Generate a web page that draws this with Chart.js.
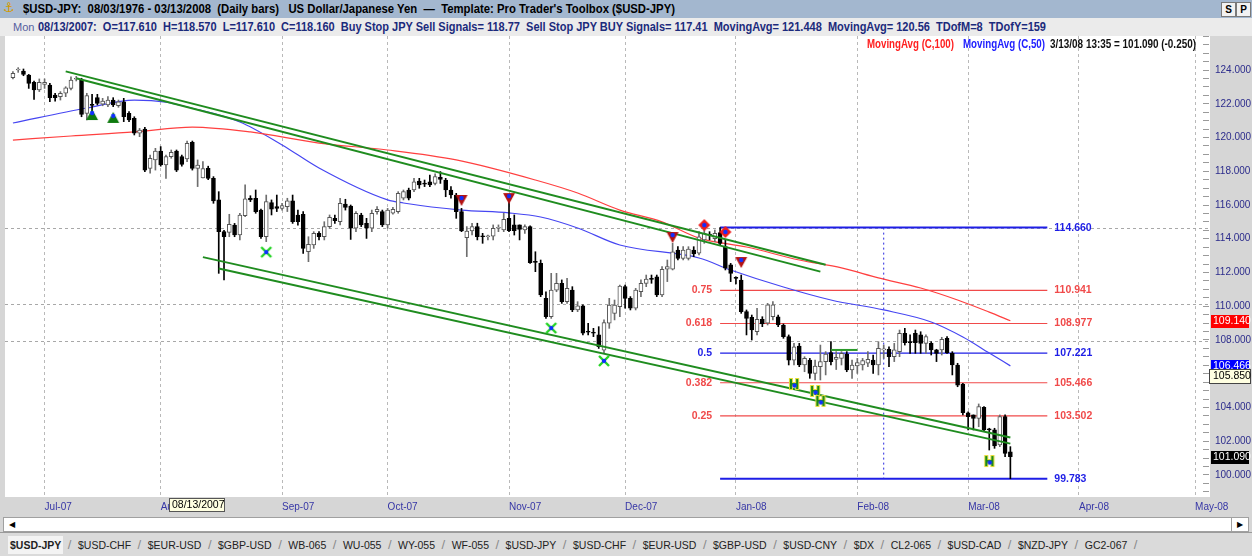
<!DOCTYPE html>
<html>
<head>
<meta charset="utf-8">
<title>$USD-JPY Daily bars</title>
<script src="https://cdn.jsdelivr.net/npm/chart.js@4.4.1/dist/chart.umd.min.js"></script>
<style>
  html, body { margin: 0; padding: 0; }
  body { width: 1252px; height: 556px; position: relative; overflow: hidden; background: #d6d6d6; font-family: "Liberation Sans", Arial, sans-serif; }
  .fit { position: absolute; display: inline-block; white-space: pre; transform-origin: 0 50%; }
  #bar1 { position: absolute; left: 0; top: 0; width: 1252px; height: 18px; background: #a3b7cf; }
  #icon { position: absolute; left: 3px; top: 0; font: 13px "DejaVu Sans"; color: #d49a00; }
  .btn { position: absolute; top: 2px; width: 13px; height: 13px; background: #f2f2f2; border: 1px solid #7a7a7a; font: bold 10px "Liberation Sans"; text-align: center; line-height: 13px; }
  #bar2 { position: absolute; left: 0; top: 18px; width: 1252px; height: 18px; background: #ebebeb; }
  #chart { position: absolute; left: 0; top: 36px; }
  #scroll { position: absolute; left: 3px; top: 517px; width: 1244px; height: 13px; background: #fff; border: 1px solid #a0a0a0; }
  #scroll .arr { position: absolute; top: 0; width: 16px; height: 13px; font: 8px "DejaVu Sans"; line-height: 13px; text-align: center; color: #000; }
  #tabs { position: absolute; left: 0; top: 532px; width: 1252px; height: 24px; border-top: 1px solid #9a9a9a; background: #dadada; display: flex; align-items: center; padding-left: 8px; box-sizing: border-box; font-size: 10.5px; color: #222; }
  #tabs .tab { padding: 0 2px; }
  #tabs .on { font-weight: bold; background: #f3f3f3; padding: 3px 2px; }
  #tabs .sep { color: #8a8a8a; padding: 0 4.5px; font-size: 13px; }
</style>
</head>
<body>
<div id="bar1">
  <span id="icon">⚓</span>
  <span class="fit" id="title1" style="left:23px;top:2px;font-weight:bold;font-size:12px;color:#000;">$USD-JPY:  08/03/1976 - 03/13/2008  (Daily bars)   US Dollar/Japanese Yen  —  Template: Pro Trader's Toolbox ($USD-JPY)</span>
  <span class="btn" style="left:1221px;">S</span>
  <span class="btn" style="left:1236px;">P</span>
</div>
<div id="bar2">
  <span class="fit" style="left:13px;top:3px;font-size:11px;color:#5560a0;">Mon</span>
  <span class="fit" id="title2" style="left:38px;top:2px;font-weight:bold;font-size:12px;color:#1b2a7c;">08/13/2007:  O=117.610  H=118.570  L=117.610  C=118.160  Buy Stop JPY Sell Signals= 118.77  Sell Stop JPY BUY Signals= 117.41  MovingAvg= 121.448  MovingAvg= 120.56  TDofM=8  TDofY=159</span>
</div>
<canvas id="chart" width="1252" height="481"></canvas>
<span class="fit" id="leg1" style="left:867px;top:37px;font-weight:bold;font-size:12px;color:#ff2020;z-index:3;">MovingAvg (C,100)</span>
<span class="fit" id="leg2" style="left:963px;top:37px;font-weight:bold;font-size:12px;color:#2020ff;z-index:3;">MovingAvg (C,50)</span>
<span class="fit" id="leg3" style="left:1050px;top:37px;font-weight:bold;font-size:12px;color:#111;z-index:3;">3/13/08 13:35 = 101.090 (-0.250)</span>
<div id="scroll"><span class="arr" style="left:0;">◀</span><span class="arr" style="right:0;border-left:1px solid #a0a0a0;">▶</span></div>
<div id="tabs"></div>
<script>
// trading days on the category axis
const firstDate = '06/21/2007';
const lastDate = '05/02/2008';
const firstBar = '06/22/2007';

// candles, one per weekday from firstBar to 03/13/2008
const opens = [
  123.55,124.00,123.94,123.70,123.27,122.82,123.15,123.11,122.52,122.42,122.62,122.91,123.45,123.41,121.43,121.95,122.36,121.97,121.93,122.22,
  121.89,122.12,121.43,121.14,120.25,120.50,118.17,118.67,119.20,118.37,118.87,119.20,118.87,118.73,119.71,118.17,117.61,118.17,117.58,116.30,
  114.42,114.38,114.81,114.22,115.37,116.40,116.40,115.70,114.12,116.14,115.90,115.80,115.90,116.24,115.41,115.45,113.23,113.63,114.32,114.12,
  114.72,115.21,115.01,116.06,115.94,114.62,115.41,114.92,114.62,115.61,115.61,114.82,115.51,115.61,116.40,116.89,116.89,117.42,117.28,117.38,
  117.28,117.64,117.48,116.89,116.59,115.61,114.06,114.46,114.72,114.16,114.12,114.16,114.62,114.52,115.21,114.82,114.82,114.52,114.72,112.66,
  112.54,110.47,109.38,110.96,111.36,110.27,110.96,109.78,110.02,108.50,108.44,108.30,107.40,108.99,109.58,109.98,111.16,110.47,109.88,110.86,
  111.36,111.61,111.75,110.67,112.19,112.19,113.33,112.84,112.84,113.33,113.14,113.93,114.24,114.00,114.36,113.53,112.45,111.67,111.55,109.68,
  109.34,108.50,109.23,108.99,109.38,109.38,108.89,108.20,106.81,107.64,106.52,106.81,106.02,106.42,106.72,107.25,106.85,106.91,107.17,106.22,
  106.46,106.52,106.62,106.81,106.52,107.41,107.45,107.01,107.31,108.40,107.86,108.40,108.30,107.80,107.80,107.41,107.41,108.10,107.21,106.52,
  105.39,103.69,103.56,103.36,104.01,102.71,102.67,101.78,103.46,101.38
];
const highs = [
  123.90,124.14,124.06,123.74,123.35,123.47,123.47,123.21,122.62,122.72,123.01,123.60,123.62,123.51,122.62,122.56,122.56,122.32,122.42,122.36,
  122.22,122.32,121.53,121.23,120.54,120.60,118.96,119.36,119.46,118.96,119.26,119.26,118.96,119.79,119.79,118.67,118.57,118.30,117.68,116.79,
  114.50,115.45,114.91,115.51,117.19,116.55,116.89,115.76,116.59,116.30,116.59,116.10,116.40,116.59,115.70,115.61,114.12,114.42,114.42,115.01,
  115.41,115.41,116.40,116.34,116.00,115.61,115.51,115.21,115.70,115.90,115.70,115.80,115.86,116.79,116.89,117.00,117.58,117.58,117.48,117.78,
  117.84,117.98,117.58,117.09,116.69,115.80,114.72,114.92,114.92,114.32,114.22,114.82,114.82,115.51,116.49,115.41,114.82,114.82,114.76,113.23,
  112.74,110.86,111.95,111.95,111.56,111.66,111.16,110.27,110.08,108.99,108.69,108.79,109.19,110.47,110.37,111.26,111.26,110.57,111.06,111.56,
  111.85,111.85,111.85,112.35,112.74,113.73,113.53,113.53,113.53,113.53,114.42,114.72,114.42,114.52,114.66,113.93,112.54,111.75,111.85,109.78,
  109.48,109.88,109.38,110.17,110.27,109.48,108.95,108.30,107.80,107.80,107.01,106.91,106.81,107.70,107.31,107.90,107.31,107.31,107.31,106.81,
  106.91,106.91,107.31,107.11,107.90,107.70,107.60,107.80,108.59,108.69,108.30,108.59,108.49,108.30,107.90,107.45,108.16,108.20,107.31,106.62,
  105.43,103.75,103.56,104.21,104.05,102.77,102.77,103.56,103.56,101.68
];
const lows = [
  123.47,123.86,123.66,122.91,122.26,122.72,122.91,122.12,122.16,122.22,122.42,122.82,123.35,121.23,121.04,121.43,121.93,121.88,121.83,121.83,
  121.79,120.94,120.94,120.15,120.05,117.98,117.88,118.07,118.30,117.58,118.77,117.98,118.30,118.57,118.07,117.09,117.61,117.50,116.10,111.95,
  111.56,114.12,114.12,113.93,115.31,116.20,115.51,114.02,113.83,115.41,115.61,115.70,115.61,114.91,114.81,113.13,112.64,113.43,113.93,113.93,
  114.62,114.91,114.82,115.70,113.96,114.42,114.72,114.02,114.42,115.45,114.72,114.62,115.45,115.51,116.30,116.30,116.79,116.99,117.09,117.09,
  117.19,117.28,116.49,116.40,115.21,114.42,112.94,114.22,113.93,113.73,113.93,113.93,114.42,114.42,114.42,114.22,113.93,114.32,112.54,112.05,
  110.57,109.28,109.28,110.86,110.17,110.17,109.68,109.68,108.30,108.30,108.20,107.50,107.21,108.69,109.19,109.38,109.88,109.78,109.78,110.57,
  111.16,111.36,110.57,110.57,111.46,112.15,112.74,112.74,112.74,112.94,113.04,113.73,113.93,113.83,113.63,112.15,111.46,111.32,109.58,108.30,
  108.00,108.30,108.79,108.89,109.19,108.79,108.10,106.52,106.52,106.42,106.12,105.73,105.63,105.63,105.93,106.52,106.25,106.52,106.12,105.73,
  106.02,106.22,106.42,106.02,105.93,106.91,106.42,106.72,107.01,107.70,107.21,107.21,107.21,107.21,107.11,106.72,107.11,107.21,105.93,105.23,
  103.56,102.67,102.67,102.86,102.57,101.48,101.58,101.68,101.09,99.78
];
const closes = [
  123.80,124.02,123.74,123.21,122.82,123.27,123.27,122.36,122.36,122.62,122.95,123.41,123.49,121.37,122.48,121.90,122.02,122.16,122.22,121.93,
  122.12,121.23,121.04,120.25,120.44,118.07,118.77,119.20,118.37,118.87,119.12,118.07,118.41,119.65,118.17,118.37,118.16,117.58,116.24,114.42,
  114.12,114.85,114.22,115.41,116.36,116.30,115.61,114.12,116.20,115.76,115.80,115.96,116.24,115.01,115.01,113.43,113.67,114.32,114.12,114.72,
  115.27,115.07,116.10,115.86,114.62,115.51,114.82,114.62,115.51,115.75,114.82,115.70,115.74,116.69,116.79,116.40,117.38,117.19,117.24,117.19,
  117.68,117.52,116.89,116.59,115.61,114.46,114.46,114.72,114.12,114.12,114.14,114.62,114.66,115.15,114.48,114.48,114.56,114.72,112.58,112.60,
  110.67,109.38,110.96,111.36,110.27,111.06,109.78,110.02,108.40,108.46,108.40,107.60,109.03,110.07,110.07,111.20,110.47,109.88,110.96,111.36,
  111.61,111.59,110.67,112.19,112.35,113.23,112.84,113.33,113.39,113.10,114.12,114.32,114.22,114.32,113.73,112.25,111.95,111.65,109.68,109.28,
  108.59,109.23,108.95,110.08,110.08,108.89,108.20,106.81,107.60,106.52,106.91,106.02,106.46,106.72,107.17,106.72,106.97,107.21,106.22,106.52,
  106.66,106.78,106.85,106.52,107.50,107.45,107.01,107.41,108.40,107.84,107.84,107.84,107.80,108.20,107.41,107.21,108.04,107.25,106.52,105.33,
  103.69,103.46,103.36,104.05,102.67,102.67,101.72,103.46,101.28,101.09
];

// moving averages
const ma100Dates = ['06/22/2007','07/09/2007','07/25/2007','08/09/2007','08/24/2007','09/12/2007','10/01/2007','10/18/2007','11/08/2007','11/20/2007','11/30/2007','12/12/2007','12/21/2007','01/03/2008','01/17/2008','01/29/2008','02/07/2008','02/19/2008','02/28/2008','03/07/2008','03/13/2008'];
const ma100Values = [119.85,120.09,120.33,120.62,120.33,119.67,119.26,118.67,117.48,116.71,115.70,115.00,114.04,113.51,112.74,112.27,111.68,111.08,110.37,109.65,109.14];
const ma50Dates = ['06/22/2007','07/12/2007','07/25/2007','08/02/2007','08/08/2007','08/22/2007','09/03/2007','09/12/2007','10/01/2007','10/04/2007','10/19/2007','11/01/2007','11/09/2007','11/20/2007','11/30/2007','12/21/2007','12/31/2007','01/14/2008','01/25/2008','02/08/2008','02/21/2008','02/29/2008','03/07/2008','03/13/2008'];
const ma50Values = [120.86,121.75,122.22,122.10,121.81,120.92,119.56,118.19,116.30,116.12,115.70,115.53,115.29,114.64,113.63,112.86,112.15,111.14,110.37,109.78,109.07,108.18,107.23,106.466];

// channel lines: [date, price] end points
const upperLine1 = [['07/06/2007', 123.92], ['01/24/2008', 112.46]];
const upperLine2 = [['07/10/2007', 123.51], ['01/23/2008', 112.05]];
const lowerLine1 = [['08/13/2007', 112.91], ['03/13/2008', 102.22]];
const lowerLine2 = [['08/16/2007', 112.24], ['03/13/2008', 101.86]];
const shortLine = [['01/25/2008', 107.41], ['02/01/2008', 107.41]];

// fibonacci retracement
const fibStart = '12/27/2007';
const fibEnd = '03/24/2008';
const fibRatios = ['', '0.75', '0.618', '0.5', '0.382', '0.25', ''];
const fibPrices = [114.660, 110.941, 108.977, 107.221, 105.466, 103.502, 99.783];
const fibTimeDate = '02/08/2008';

// plain horizontal levels
const levelLines = [114.66, 110.13, 107.94];

// signal markers
const buyDates = ['07/13/2007', '07/19/2007'];
const buyPrices = [121.33, 121.16];
const sellDates = ['10/19/2007', '11/01/2007', '12/14/2007', '01/02/2008'];
const sellPrices = [116.30, 116.41, 114.10, 112.62];
const diamondDates = ['12/24/2007', '12/28/2007'];
const diamondPrices = [114.81, 114.40];
const crossDates = ['08/29/2007', '11/13/2007', '11/27/2007'];
const crossPrices = [113.21, 108.71, 106.76];
const hDates = ['01/16/2008', '01/22/2008', '01/23/2008', '03/07/2008'];
const hPrices = [105.33, 104.92, 104.33, 100.77];

// axis
const monthTickDates = ['07/02/2007','08/01/2007','09/03/2007','10/01/2007','11/01/2007','12/03/2007','01/01/2008','02/01/2008','03/03/2008','04/01/2008','05/01/2008'];
const monthTickLabels = ['Jul-07','Aug-07','Sep-07','Oct-07','Nov-07','Dec-07','Jan-08','Feb-08','Mar-08','Apr-08','May-08'];
const yLabelValues = [100, 102, 104, 106, 108, 110, 112, 114, 116, 118, 120, 122, 124];
const flagValues = [109.140, 106.466, 105.850, 101.090];
const crosshairDate = '08/13/2007';

const tabNames = ['$USD-JPY','$USD-CHF','$EUR-USD','$GBP-USD','WB-065','WU-055','WY-055','WF-055','$USD-JPY','$USD-CHF','$EUR-USD','$GBP-USD','$USD-CNY','$DX','CL2-065','$USD-CAD','$NZD-JPY','GC2-067'];

// ---------- page bits ----------
const tabs = document.getElementById('tabs');
tabNames.forEach((t, k) => {
  const s = document.createElement('span');
  s.className = k === 0 ? 'tab on' : 'tab';
  s.textContent = t;
  tabs.appendChild(s);
  const sep = document.createElement('span');
  sep.className = 'sep';
  sep.textContent = '/';
  tabs.appendChild(sep);
});

function fitWidth(id, w) {
  const el = document.getElementById(id);
  el.style.transform = 'scaleX(' + (w / el.getBoundingClientRect().width) + ')';
}
fitWidth('title1', 652);
fitWidth('title2', 1008);
fitWidth('leg1', 87);
fitWidth('leg2', 82);
fitWidth('leg3', 146);

// ---------- chart ----------
function tradingDays(from, to) {
  const p = s => { const [m, d, y] = s.split('/').map(Number); return Date.UTC(y, m - 1, d); };
  const out = [];
  for (let t = p(from); t <= p(to); t += 86400000) {
    const d = new Date(t);
    const wd = d.getUTCDay();
    if (wd === 0 || wd === 6) continue;
    out.push(String(d.getUTCMonth() + 1).padStart(2, '0') + '/' + String(d.getUTCDate()).padStart(2, '0') + '/' + d.getUTCFullYear());
  }
  return out;
}
const dates = tradingDays(firstDate, lastDate);
const off = dates.indexOf(firstBar);
const bar = k => (k >= off && k - off < closes.length) ? k - off : -1;

const wickData = dates.map((d, k) => bar(k) < 0 ? null : [lows[bar(k)], highs[bar(k)]]);
const bodyData = dates.map((d, k) => bar(k) < 0 ? null : [opens[bar(k)], closes[bar(k)]]);
const isUp = k => bar(k) >= 0 && closes[bar(k)] >= opens[bar(k)];
const pts = (ds, vs) => ds.map((d, i) => ({ x: d, y: vs[i] }));
const seg = a => a.map(([d, v]) => ({ x: d, y: v }));

function marker(kind) {
  const c = document.createElement('canvas');
  c.width = 14; c.height = 14;
  const g = c.getContext('2d');
  const dot = (x, y) => { g.fillStyle = '#1030ff'; g.beginPath(); g.arc(x, y, 2.2, 0, Math.PI * 2); g.fill(); };
  if (kind === 'buy') {
    g.fillStyle = '#0e7a0e'; g.beginPath(); g.moveTo(7, 1); g.lineTo(13, 12); g.lineTo(1, 12); g.closePath(); g.fill(); dot(7, 5);
  } else if (kind === 'sell') {
    g.fillStyle = '#b41212'; g.beginPath(); g.moveTo(1, 2); g.lineTo(13, 2); g.lineTo(7, 13); g.closePath(); g.fill(); dot(7, 5);
  } else if (kind === 'diamond') {
    g.fillStyle = '#f01c1c'; g.beginPath(); g.moveTo(7, 1); g.lineTo(13, 7); g.lineTo(7, 13); g.lineTo(1, 7); g.closePath(); g.fill(); dot(7, 7);
  } else if (kind === 'cross') {
    g.strokeStyle = '#22d322'; g.lineWidth = 2.4; g.beginPath(); g.moveTo(2, 2); g.lineTo(12, 12); g.moveTo(12, 2); g.lineTo(2, 12); g.stroke(); dot(7, 7);
  } else {
    g.font = 'bold 14px "Liberation Sans"'; g.textAlign = 'center'; g.textBaseline = 'middle';
    g.lineWidth = 2; g.strokeStyle = '#e6dc3c'; g.strokeText('H', 7, 7.5);
    g.fillStyle = '#178a17'; g.fillText('H', 7, 7.5); dot(7.5, 7.5);
  }
  return c;
}

const signal = (ds, vs, kind) => ({
  type: 'line', data: pts(ds, vs), showLine: false, order: 0,
  pointStyle: marker(kind), pointRadius: 7
});
const line = (data, color, width, order, extra) => Object.assign({
  type: 'line', data, borderColor: color, borderWidth: width, pointRadius: 0, order, fill: false
}, extra || {});

const fibColor = i => (i === 0 || i === 3 || i === fibPrices.length - 1) ? '#1e1ee6' : '#f04a4a';
const fibSets = fibPrices.map((v, i) => line(seg([[fibStart, v], [fibEnd, v]]), fibColor(i),
  (i === 0 || i === fibPrices.length - 1) ? 2 : 1.2, 6));

const paper = {
  id: 'paper',
  beforeDraw(chart) {
    const { ctx, chartArea: a } = chart;
    ctx.save();
    ctx.fillStyle = '#ffffff';
    ctx.fillRect(a.left, a.top, a.right - a.left + 7, a.bottom - a.top);
    ctx.restore();
  },
  beforeDatasetsDraw(chart) {
    const { ctx, chartArea: a, scales: { y } } = chart;
    ctx.save();
    ctx.strokeStyle = '#a8a8a8';
    ctx.lineWidth = 1;
    ctx.setLineDash([3, 3]);
    levelLines.forEach(v => {
      const py = Math.round(y.getPixelForValue(v)) + 0.5;
      ctx.beginPath(); ctx.moveTo(a.left, py); ctx.lineTo(a.right + 7, py); ctx.stroke();
    });
    ctx.restore();
  },
  afterDatasetsDraw(chart) {
    const { ctx, scales: { x, y } } = chart;
    const xs = x.getPixelForValue(dates.indexOf(fibStart));
    const xe = x.getPixelForValue(dates.indexOf(fibEnd));
    ctx.save();
    ctx.font = 'bold 10.5px "Liberation Sans"';
    ctx.textBaseline = 'middle';
    fibPrices.forEach((v, i) => {
      const py = y.getPixelForValue(v);
      ctx.fillStyle = fibColor(i);
      ctx.textAlign = 'left';
      ctx.fillText(v.toFixed(3), xe + 7, py);
      if (fibRatios[i]) { ctx.textAlign = 'right'; ctx.fillText(fibRatios[i], xs - 8, py); }
    });
    ctx.restore();
  },
  afterDraw(chart) {
    const { ctx, chartArea: a, scales: { x, y } } = chart;
    const styles = [
      { bg: '#ff0000', fg: '#ffffff' },
      { bg: '#0000ff', fg: '#ffffff' },
      { bg: '#ffffe1', fg: '#000000', border: '#444444' },
      { bg: '#000000', fg: '#ffffff' }
    ];
    ctx.save();
    ctx.font = '10.5px "Liberation Sans"';
    ctx.textBaseline = 'middle';
    ctx.textAlign = 'left';
    flagValues.forEach((v, i) => {
      const s = styles[i];
      const py = Math.round(y.getPixelForValue(v));
      const x0 = a.right + 8;
      if (s.border) {
        ctx.fillStyle = s.bg; ctx.fillRect(x0 - 2, py - 7, 42, 15);
        ctx.strokeStyle = s.border; ctx.lineWidth = 1; ctx.strokeRect(x0 - 1.5, py - 6.5, 41, 14);
      } else {
        ctx.fillStyle = s.bg; ctx.fillRect(x0, py - 6, 38, 13);
      }
      ctx.fillStyle = s.fg;
      ctx.fillText(v.toFixed(3), x0 + 2, py + 0.5);
    });
    // crosshair date box on the time axis
    const cx = Math.round(x.getPixelForValue(dates.indexOf(crosshairDate)));
    ctx.fillStyle = '#ffffe1';
    ctx.fillRect(cx - 34, a.bottom + 1, 56, 14);
    ctx.strokeStyle = '#555555';
    ctx.strokeRect(cx - 33.5, a.bottom + 1.5, 55, 13);
    ctx.fillStyle = '#000000';
    ctx.fillText(crosshairDate, cx - 31, a.bottom + 8.5);
    ctx.restore();
  }
};

Chart.defaults.font.family = '"Liberation Sans", Arial, sans-serif';

new Chart(document.getElementById('chart'), {
  type: 'bar',
  data: {
    labels: dates,
    datasets: [
      signal(buyDates, buyPrices, 'buy'),
      signal(sellDates, sellPrices, 'sell'),
      signal(diamondDates, diamondPrices, 'diamond'),
      signal(crossDates, crossPrices, 'cross'),
      signal(hDates, hPrices, 'h'),
      line(seg(upperLine1), '#1f8c1f', 2, 1),
      line(seg(upperLine2), '#1f8c1f', 2, 1),
      line(seg(lowerLine1), '#1f8c1f', 2, 1),
      line(seg(lowerLine2), '#1f8c1f', 2, 1),
      line(seg(shortLine), '#2a9a2a', 2, 1),
      {
        type: 'bar', data: bodyData, grouped: false, order: 2,
        barThickness: 4, minBarLength: 1, borderWidth: 1, borderSkipped: false,
        backgroundColor: dates.map((d, k) => isUp(k) ? '#ffffff' : '#000000'),
        borderColor: dates.map((d, k) => isUp(k) ? '#555555' : '#000000')
      },
      {
        type: 'bar', data: wickData, grouped: false, order: 3,
        barThickness: 1, borderWidth: 0,
        backgroundColor: dates.map((d, k) => isUp(k) ? '#6e6e6e' : '#000000')
      },
      line(pts(ma100Dates, ma100Values), '#ff4040', 1.2, 4, { cubicInterpolationMode: 'monotone' }),
      line(pts(ma50Dates, ma50Values), '#4646f2', 1.2, 4, { cubicInterpolationMode: 'monotone' }),
      ...fibSets,
      line(seg([[fibTimeDate, fibPrices[0]], [fibTimeDate, fibPrices[fibPrices.length - 1]]]), '#2a2ae0', 1, 6, { borderDash: [2, 3] })
    ]
  },
  options: {
    responsive: false,
    animation: false,
    events: [],
    devicePixelRatio: 1,
    layout: { autoPadding: false, padding: { left: 5, right: 0, top: 0, bottom: 0 } },
    plugins: { legend: { display: false }, tooltip: { enabled: false } },
    scales: {
      x: {
        type: 'category',
        offset: true,
        grid: { offset: false, color: '#b9b9b9', lineWidth: 1, drawTicks: false },
        border: { display: false, dash: [3, 3] },
        ticks: {
          autoSkip: false, maxRotation: 0, align: 'start', padding: 4,
          color: '#3636a6', font: { size: 10 },
          callback: (v, i) => monthTickLabels[i]
        },
        afterBuildTicks: s => { s.ticks = monthTickDates.map(d => ({ value: dates.indexOf(d) })); },
        afterFit: s => { s.height = 20; s.paddingLeft = 0; s.paddingRight = 0; }
      },
      y: {
        position: 'right',
        min: 98.696,
        max: 126.015,
        grid: { drawOnChartArea: false, drawTicks: true, tickLength: 6, tickColor: '#9a9a9a' },
        border: { display: false },
        ticks: {
          autoSkip: false, padding: 6, color: '#2c2c8c', font: { size: 10 },
          callback: v => yLabelValues.includes(v) ? v.toFixed(3) : ''
        },
        afterBuildTicks: s => {
          const t = [];
          for (let v = 99; v <= 126; v += 0.5) t.push({ value: v });
          s.ticks = t;
        },
        afterFit: s => { s.width = 49; s.paddingTop = 0; s.paddingBottom = 0; }
      }
    }
  },
  plugins: [paper]
});
</script>
</body>
</html>
